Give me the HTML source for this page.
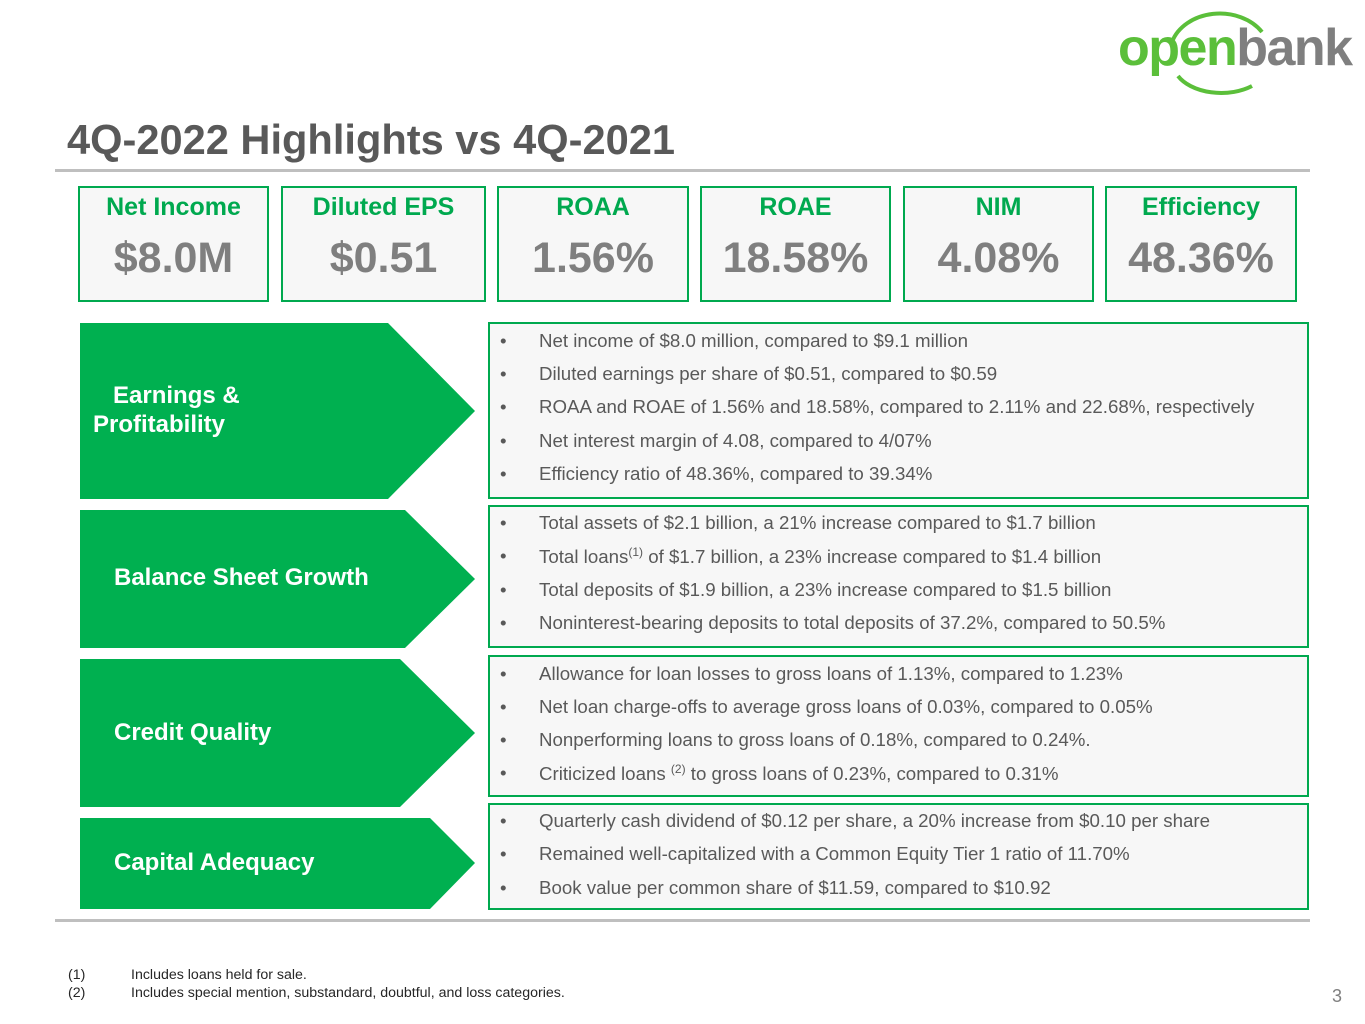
<!DOCTYPE html><html><head><style>
body{margin:0;width:1365px;height:1024px;background:#fff;font-family:"Liberation Sans",sans-serif;position:relative;overflow:hidden}
.a{position:absolute}
.kb{position:absolute;top:186px;height:112px;border:2.5px solid #00a94f;background:#f7f7f7;text-align:center}
.kb .t{color:#00a94f;font-weight:bold;font-size:25px;margin-top:5px}
.kb .v{color:#7f7f7f;font-weight:bold;font-size:43px;margin-top:12px}
.tb{position:absolute;left:488px;width:817px;border:2.5px solid #00a94f;background:#f7f7f7}
.r{position:absolute;left:0;font-size:18.7px;color:#595959;white-space:nowrap}
.r b{font-weight:normal;position:absolute;left:10px}
.r span{position:absolute;left:49px}
.lab{position:absolute;color:#fff;font-weight:bold;font-size:24px}
sup{font-size:12px}
</style></head><body>
<div class="a" style="left:1118px;top:22px;font-size:52px;font-weight:bold;letter-spacing:-1.5px;line-height:1"><span style="color:#5bbf3a">open</span><span style="color:#7f7f7f">bank</span></div>
<svg class="a" style="left:1150px;top:4px" width="130" height="92"><path d="M22 38 A50 40 0 0 1 112 28" stroke="#5bbf3a" stroke-width="4" fill="none"/><path d="M28 72 A48 30 0 0 0 102 82" stroke="#5bbf3a" stroke-width="4" fill="none"/></svg>
<div class="a" style="left:67px;top:116px;font-size:41.6px;font-weight:bold;color:#595959">4Q-2022 Highlights vs 4Q-2021</div>
<div class="a" style="left:55px;top:169px;width:1255px;height:3px;background:#bfbfbf"></div>
<div class="a" style="left:55px;top:919px;width:1255px;height:3px;background:#bfbfbf"></div>
<div class="kb" style="left:78px;width:187px"><div class="t">Net Income</div><div class="v">$8.0M</div></div>
<div class="kb" style="left:281px;width:201px"><div class="t">Diluted EPS</div><div class="v">$0.51</div></div>
<div class="kb" style="left:497px;width:188px"><div class="t">ROAA</div><div class="v">1.56%</div></div>
<div class="kb" style="left:700px;width:187px"><div class="t">ROAE</div><div class="v">18.58%</div></div>
<div class="kb" style="left:903px;width:187px"><div class="t">NIM</div><div class="v">4.08%</div></div>
<div class="kb" style="left:1105px;width:188px"><div class="t">Efficiency</div><div class="v">48.36%</div></div>
<svg class="a" style="left:0;top:0" width="480" height="1024">
<polygon points="80,323 388,323 475,411 388,499 80,499" fill="#00b050"/>
<polygon points="80,510 405,510 475,579 405,648 80,648" fill="#00b050"/>
<polygon points="80,659 400,659 475,733 400,807 80,807" fill="#00b050"/>
<polygon points="80,818 430,818 475,863 430,909 80,909" fill="#00b050"/>
</svg>
<div class="lab" style="left:93px;top:381px;line-height:29px">&nbsp;&nbsp;&nbsp;Earnings &amp;<br>Profitability</div>
<div class="lab" style="left:114px;top:564px">Balance Sheet Growth</div>
<div class="lab" style="left:114px;top:719px">Credit Quality</div>
<div class="lab" style="left:114px;top:849px">Capital Adequacy</div>
<div class="tb" style="top:322px;height:173px">
<div class="r" style="top:6px"><b>•</b><span>Net income of $8.0 million, compared to $9.1 million</span></div>
<div class="r" style="top:39px"><b>•</b><span>Diluted earnings per share of $0.51, compared to $0.59</span></div>
<div class="r" style="top:72px"><b>•</b><span>ROAA and ROAE of 1.56% and 18.58%, compared to 2.11% and 22.68%, respectively</span></div>
<div class="r" style="top:106px"><b>•</b><span>Net interest margin of 4.08, compared to 4/07%</span></div>
<div class="r" style="top:139px"><b>•</b><span>Efficiency ratio of 48.36%, compared to 39.34%</span></div>
</div>
<div class="tb" style="top:505px;height:139px">
<div class="r" style="top:5px"><b>•</b><span>Total assets of $2.1 billion, a 21% increase compared to $1.7 billion</span></div>
<div class="r" style="top:38px"><b>•</b><span>Total loans<sup>(1)</sup> of $1.7 billion, a 23% increase compared to $1.4 billion</span></div>
<div class="r" style="top:72px"><b>•</b><span>Total deposits of $1.9 billion, a 23% increase compared to $1.5 billion</span></div>
<div class="r" style="top:105px"><b>•</b><span>Noninterest-bearing deposits to total deposits of 37.2%, compared to 50.5%</span></div>
</div>
<div class="tb" style="top:655px;height:138px">
<div class="r" style="top:6px"><b>•</b><span>Allowance for loan losses to gross loans of 1.13%, compared to 1.23%</span></div>
<div class="r" style="top:39px"><b>•</b><span>Net loan charge-offs to average gross loans of 0.03%, compared to 0.05%</span></div>
<div class="r" style="top:72px"><b>•</b><span>Nonperforming loans to gross loans of 0.18%, compared to 0.24%.</span></div>
<div class="r" style="top:105px"><b>•</b><span>Criticized loans <sup>(2)</sup> to gross loans of 0.23%, compared to 0.31%</span></div>
</div>
<div class="tb" style="top:803px;height:103px">
<div class="r" style="top:5px"><b>•</b><span>Quarterly cash dividend of $0.12 per share, a 20% increase from $0.10 per share</span></div>
<div class="r" style="top:38px"><b>•</b><span>Remained well-capitalized with a Common Equity Tier 1 ratio of 11.70%</span></div>
<div class="r" style="top:72px"><b>•</b><span>Book value per common share of $11.59, compared to $10.92</span></div>
</div>
<div class="a" style="left:68px;top:966px;font-size:14.2px;color:#262626;line-height:18px">(1)<br>(2)</div>
<div class="a" style="left:131px;top:966px;font-size:14.2px;color:#262626;line-height:18px">Includes loans held for sale.<br>Includes special mention, substandard, doubtful, and loss categories.</div>
<div class="a" style="left:1332px;top:986px;font-size:18px;color:#7f7f7f">3</div>
</body></html>
